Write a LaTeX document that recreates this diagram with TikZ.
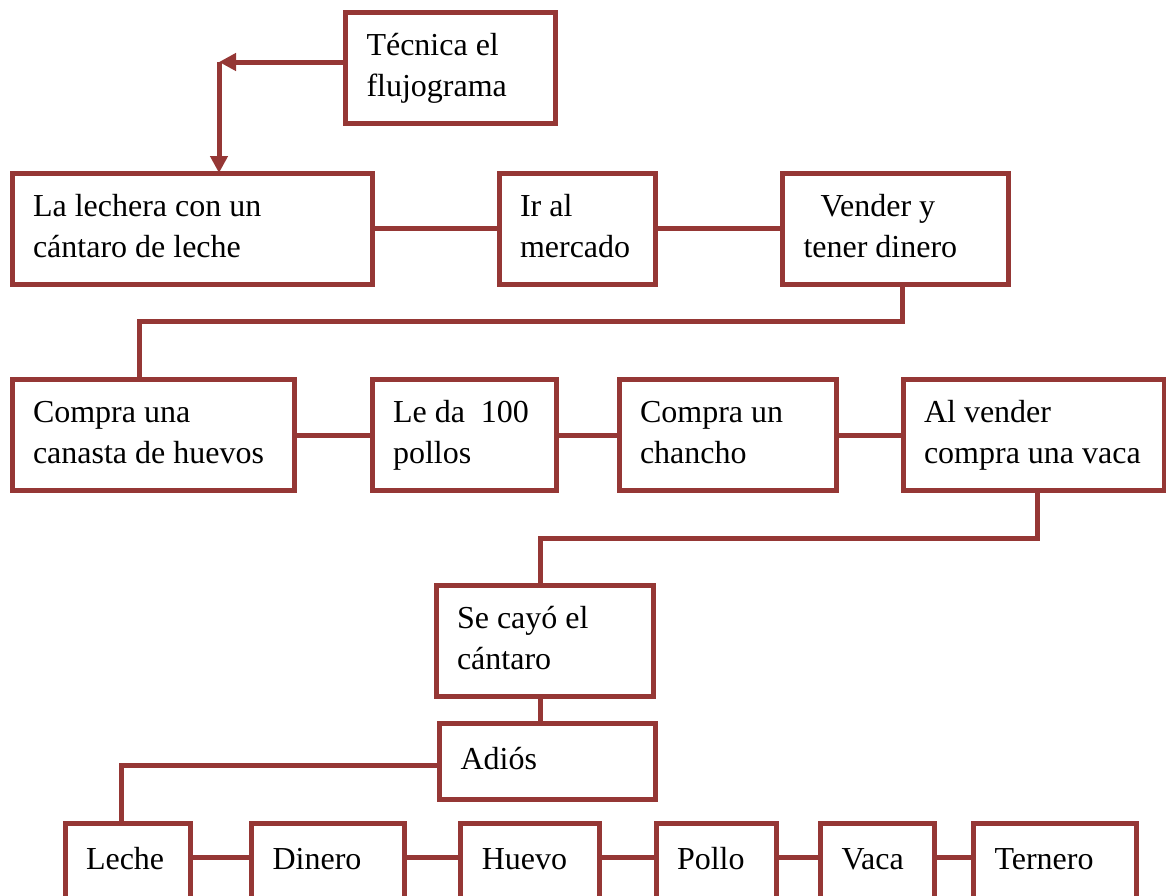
\documentclass[tikz,border=0pt]{standalone}
\usepackage{fontspec}
\setmainfont{Liberation Serif}
\usetikzlibrary{arrows.meta}
\definecolor{brick}{HTML}{953735}

\begin{document}
\begin{tikzpicture}[x=0.5pt,y=-0.5pt,
  box/.style={rectangle,draw=brick,line width=2.5pt,outer sep=0pt,anchor=north west,
    inner xsep=10.5pt,align=flush left,text width=#1,minimum height=55.5pt,
    font=\fontsize{16}{20.5}\selectfont,
    execute at begin node={\spaceskip=0pt\xspaceskip=0pt\strut},
    execute at end node=\strut},
  low/.style={minimum height=38pt},
  link/.style={draw=brick,line width=2.5pt},
  arrow/.style={link,-{Triangle[length=8.5pt,width=8.5pt]}}]

\useasboundingbox (0,0) rectangle (1166,895);
\clip (0,0) rectangle (1166,895);

\node[box=83.75pt] (tec) at (345.5,12.5) {Técnica el\\flujograma};

\node[box=159.25pt] (lech) at (12,173) {La lechera con un\\cántaro de leche};
\node[box=57.25pt] (ir) at (499,173) {Ir al\\mercado};
\node[box=91.75pt] (vend) at (782.5,173) {\hspace*{8.5pt}Vender y\\tener dinero};

\node[box=120pt] (comp) at (12,379.5) {Compra una\\canasta de huevos};
\node[box=71.35pt] (leda) at (372,379.5) {Le~da~~100\\pollos};
\node[box=87.5pt] (chan) at (619,379.5) {Compra un\\chancho};
\node[box=109.5pt] (vaca) at (903,379.5) {Al vender\\compra~una~vaca};

\node[box=87.5pt] (caer) at (436,585) {Se cayó el\\cántaro};
\node[box=87pt,low] (adios) at (439.5,723) {Adiós};

\node[box=41.5pt,low] (leche) at (65,823) {Leche};
\node[box=55.2pt,low] (dinero) at (251.6,823) {Dinero};
\node[box=48.4pt,low] (huevo) at (460.8,823) {Huevo};
\node[box=39pt,low] (pollo) at (656,823) {Pollo};
\node[box=35.75pt,low] (vac) at (820.5,823) {Vaca};
\node[box=60.25pt,low] (ternero) at (973.5,823) {Ternero};

%---------------------------------------------------------------
\coordinate (tk) at (219,62);
\draw[arrow] (tec.west |- tk) -- (tk);
\draw[arrow] (tk) -- (lech.north -| tk);

\path (lech) edge[link] (ir);
\path (ir) edge[link] (vend);

%---------------------------------------------------------------
\coordinate (k1) at (902.5,321);
\coordinate (k2) at (139,321);
\draw[link] (vend.south -| k1) -- (k1) -- (k2) -- (comp.north -| k2);

\path (comp) edge[link] (leda);
\path (leda) edge[link] (chan);
\path (chan) edge[link] (vaca);

%---------------------------------------------------------------
\coordinate (k3) at (1037,538);
\coordinate (k4) at (540,538);
\draw[link] (vaca.south -| k3) -- (k3) -- (k4) -- (caer.north -| k4);
\draw[link] (caer.south -| k4) -- (adios.north -| k4);

\coordinate (k5) at (121.5,765.5);
\draw[link] (adios.west |- k5) -- (k5) -- (leche.north -| k5);

%---------------------------------------------------------------
\coordinate (row) at (0,857);
\foreach \a/\b in {leche/dinero,dinero/huevo,huevo/pollo,pollo/vac,vac/ternero}
  \draw[link] (\a.east |- row) -- (\b.west |- row);

\end{tikzpicture}
\end{document}
